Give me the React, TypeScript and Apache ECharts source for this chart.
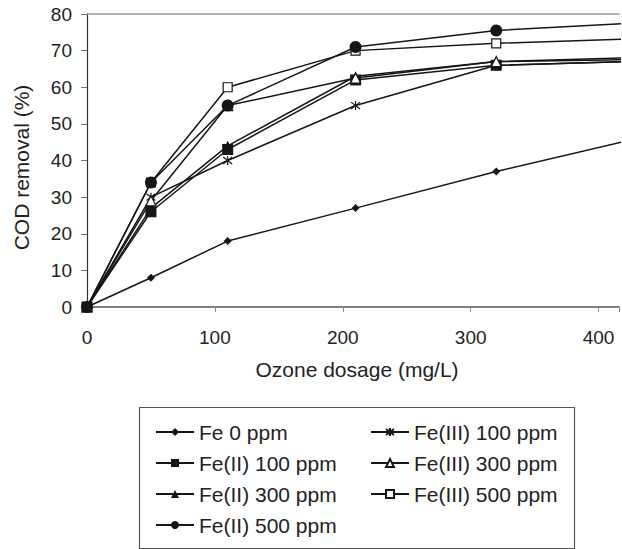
import React, { useEffect, useRef } from "react";
import * as echarts from "echarts";

const dosage = [0, 50, 110, 210, 320, 420];
const fe0 = [0, 8, 18, 27, 37, 45.2];
const fe2_100 = [0, 26, 43, 62, 66, 67];
const fe2_300 = [0, 27, 44, 63, 67, 68];
const fe2_500 = [0, 34, 55, 71, 75.5, 77.4];
const fe3_100 = [0, 30, 40, 55, 66, 67];
const fe3_300 = [0, 29, 55, 62.5, 67, 67.5];
const fe3_500 = [0, 34, 60, 70, 72, 73.1];

const names = [
  "Fe 0 ppm",
  "Fe(II) 100 ppm",
  "Fe(II) 300 ppm",
  "Fe(II) 500 ppm",
  "Fe(III) 100 ppm",
  "Fe(III) 300 ppm",
  "Fe(III) 500 ppm",
];
const values = [fe0, fe2_100, fe2_300, fe2_500, fe3_100, fe3_300, fe3_500];

const xMin = 0;
const xMax = 416;
const xStep = 100;
const yMin = 0;
const yMax = 80;
const yStep = 10;

const INK = "#161616";
const FONT = "Liberation Sans, Arial, sans-serif";

const STAR = "path://M5 0L5 10M1.2 1.2L8.8 8.8M1.2 8.8L8.8 1.2";

const markers = [
  { symbol: "diamond", size: 8, fill: INK },
  { symbol: "rect", size: 11, fill: INK },
  { symbol: "triangle", size: 10, fill: INK },
  { symbol: "circle", size: 12, fill: INK },
  { symbol: STAR, size: 9, fill: "none" },
  { symbol: "triangle", size: 10, fill: "#ffffff" },
  { symbol: "rect", size: 9, fill: "#ffffff" },
];

export default function App() {
  const ref = useRef<HTMLDivElement>(null);
  useEffect(() => {
    if (!ref.current) return;
    const chart = echarts.init(ref.current, undefined, { renderer: "svg" });
    const series = names.map((name, i) => ({
      name,
      type: "line",
      data: dosage.map((x, j) => [x, values[i][j]]),
      symbol: markers[i].symbol,
      symbolSize: markers[i].size,
      showAllSymbol: true,
      clip: true,
      lineStyle: { color: INK, width: 1.5 },
      itemStyle: {
        color: markers[i].fill,
        borderColor: INK,
        borderWidth: markers[i].fill === INK ? 0 : 1.2,
      },
      emphasis: { disabled: true },
      z: 3 + (i === 3 ? 1 : 0),
    }));
    const legendCommon = {
      orient: "vertical" as const,
      itemWidth: 38,
      itemHeight: 10,
      itemGap: 9,
      padding: 0,
      selectedMode: false,
      textStyle: { fontFamily: FONT, fontSize: 21, color: "#222", lineHeight: 22 },
    };
    chart.setOption({
      animation: false,
      backgroundColor: "#ffffff",
      grid: { left: 87, right: 0, top: 14, bottom: 242, containLabel: false },
      xAxis: [
        {
          type: "value",
          min: xMin,
          max: xMax,
          interval: xStep,
          name: "Ozone dosage (mg/L)",
          nameLocation: "middle",
          nameGap: 52,
          nameTextStyle: { fontFamily: FONT, fontSize: 21, color: "#222", padding: [0, 0, 0, 8] },
          axisLine: { show: true, lineStyle: { color: "#555", width: 1.5 } },
          axisTick: { show: true, inside: false, length: 5, lineStyle: { color: "#888" } },
          axisLabel: {
            fontFamily: FONT,
            fontSize: 19,
            color: "#222",
            margin: 21,
            formatter: (v: number) => (v % xStep === 0 ? String(v) : ""),
          },
          splitLine: { show: false },
        },
        {
          type: "value",
          position: "top",
          min: xMin,
          max: xMax,
          axisLine: { show: true, lineStyle: { color: "#999", width: 1.5 } },
          axisTick: { show: false },
          axisLabel: { show: false },
          splitLine: { show: false },
        },
      ],
      yAxis: {
        type: "value",
        min: yMin,
        max: yMax,
        interval: yStep,
        name: "COD removal (%)",
        nameLocation: "middle",
        nameGap: 55,
        nameTextStyle: { fontFamily: FONT, fontSize: 21, color: "#222", padding: [0, 14, 0, 0] },
        axisLine: { show: true, lineStyle: { color: "#333", width: 1.2 } },
        axisTick: { show: true, inside: false, length: 6, lineStyle: { color: "#777" } },
        axisLabel: { fontFamily: FONT, fontSize: 19, color: "#222", margin: 15 },
        splitLine: { show: false },
      },
      legend: [
        { ...legendCommon, left: 155, top: 421, data: names.slice(0, 4) },
        { ...legendCommon, left: 370, top: 421, data: names.slice(4) },
      ],
      graphic: [
        {
          type: "rect",
          left: 137,
          top: 405,
          shape: { width: 435, height: 141 },
          style: { fill: "none", stroke: "#555", lineWidth: 1.2 },
          silent: true,
        },
      ],
      series,
    });
    return () => chart.dispose();
  }, []);
  return <div ref={ref} style={{ width: 622, height: 549, position: "absolute", left: 0, top: 0 }} />;
}
